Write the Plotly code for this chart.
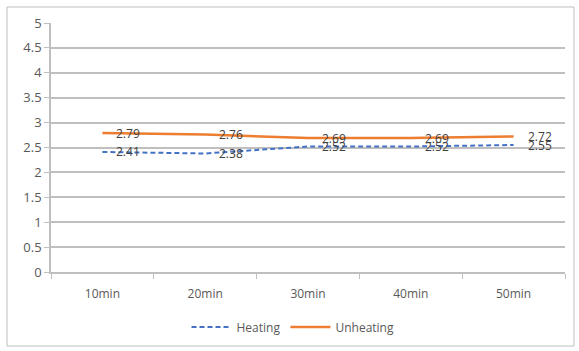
import plotly.graph_objects as go

categories = ["10min", "20min", "30min", "40min", "50min"]
heating = [2.41, 2.38, 2.52, 2.52, 2.55]
unheating = [2.79, 2.76, 2.69, 2.69, 2.72]
y_ticks = [0, 0.5, 1, 1.5, 2, 2.5, 3, 3.5, 4, 4.5, 5]
y_tick_labels = ["0", "0.5", "1", "1.5", "2", "2.5", "3", "3.5", "4", "4.5", "5"]

W, H = 579, 351
ml, mr, mt, mb = 51, 14, 23, 79
pw, ph = W - ml - mr, H - mt - mb

font_family = "Open Sans, Noto Sans, sans-serif"
txt_color = "#404040"

fig = go.Figure()
fig.add_trace(go.Scatter(
    x=categories, y=heating, name="Heating", mode="lines",
    line=dict(color="#4472C4", width=2, dash="5px,3px"),
))
fig.add_trace(go.Scatter(
    x=categories, y=unheating, name="Unheating", mode="lines",
    line=dict(color="#ED7D31", width=2.5),
))

for series in (heating, unheating):
    for c, v in zip(categories, series):
        fig.add_annotation(x=c, y=v, xref="x", yref="y", text=f"{v:.2f}",
                           showarrow=False, xanchor="left", yanchor="middle",
                           xshift=12, font=dict(family=font_family, size=12, color=txt_color))

def px_x(p):
    return (p - ml) / pw

def px_y(p):
    return (H - mb - p) / ph

fig.add_shape(type="rect", xref="paper", yref="paper",
              x0=px_x(7), x1=px_x(574), y0=px_y(346), y1=px_y(7),
              line=dict(color="#BFBFBF", width=1), layer="below")

fig.update_layout(
    width=W, height=H,
    margin=dict(l=ml, r=mr, t=mt, b=mb, autoexpand=False),
    paper_bgcolor="white", plot_bgcolor="white",
    font=dict(family=font_family, size=12, color="#595959"),
    showlegend=True,
    legend=dict(orientation="h", x=px_x(293), xanchor="center", y=px_y(327), yanchor="middle",
                font=dict(family=font_family, size=12, color="#595959"),
                itemwidth=40, traceorder="normal"),
    xaxis=dict(type="category", categoryorder="array", categoryarray=categories,
               showgrid=False, showline=True, linecolor="#BFBFBF", linewidth=1.5,
               ticks="outside", tickson="boundaries", ticklen=5, tickcolor="#BFBFBF",
               ticklabelstandoff=10,
               tickfont=dict(family=font_family, size=12, color="#595959"),
               range=[-0.5, 4.5], fixedrange=True, automargin=False),
    yaxis=dict(range=[0, 5], tickvals=y_ticks, ticktext=y_tick_labels,
               showgrid=True, gridcolor="#BFBFBF", gridwidth=1.5,
               showline=True, linecolor="#BFBFBF", linewidth=1.5,
               ticks="outside", ticklen=5, tickcolor="#BFBFBF",
               zeroline=False, automargin=False,
               tickfont=dict(family=font_family, size=13, color="#595959"),
               fixedrange=True),
)

fig.write_html("out.html", config={"displayModeBar": False},
               post_script="document.body.style.margin='0';document.body.style.overflow='hidden';")
